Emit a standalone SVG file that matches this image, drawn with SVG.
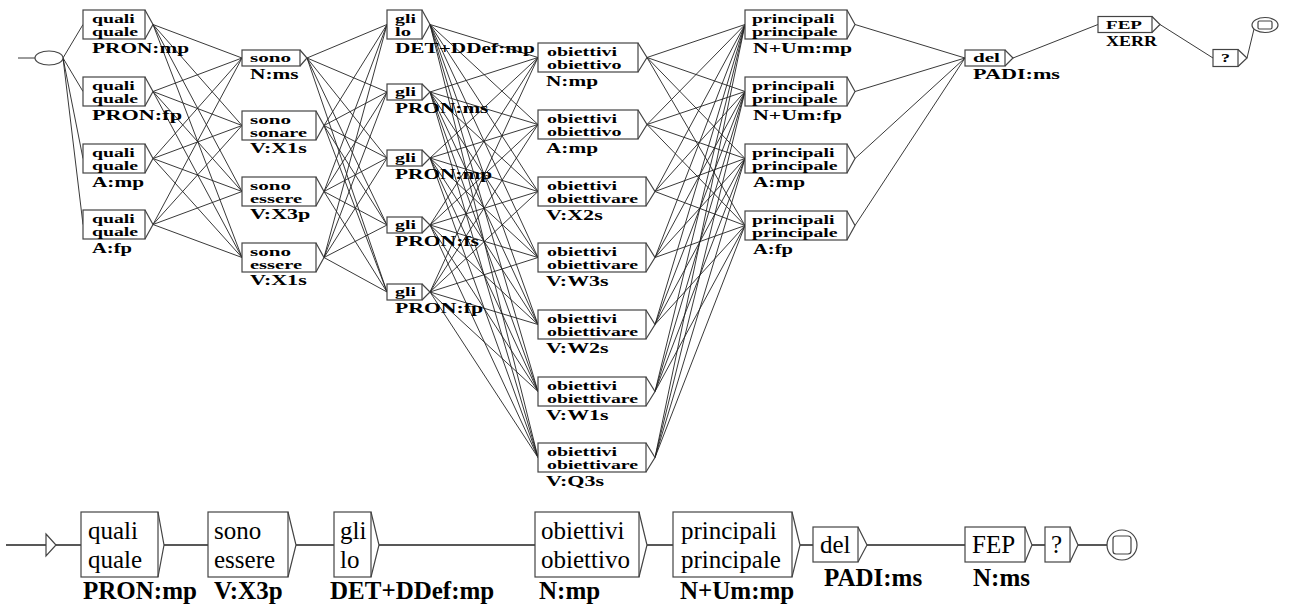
<svg xmlns="http://www.w3.org/2000/svg" width="1289" height="605" viewBox="0 0 1289 605">
<style>
.b{fill:#fff;stroke:#444;stroke-width:1.2}
.a{fill:none;stroke:#444;stroke-width:1.2}
.c{fill:none;stroke:#222;stroke-width:0.9}
.c2{fill:none;stroke:#222;stroke-width:1.4}
.t{font-family:"Liberation Serif","Times New Roman",serif;font-weight:bold;font-size:13px;fill:#000}
.l{font-family:"Liberation Serif","Times New Roman",serif;font-weight:bold;font-size:14px;fill:#000}
.bt{font-family:"Liberation Serif","Times New Roman",serif;font-size:25px;fill:#000}
.bl{font-family:"Liberation Serif","Times New Roman",serif;font-weight:bold;font-size:25px;fill:#000}
</style>
<rect width="1289" height="605" fill="#fff"/>
<g id="connectors">
<path class="c" d="M18 58H35"/>
<path class="c" d="M63 58L83 24.5M63 58L83 91.5M63 58L83 158.5M63 58L83 224.5"/>
<path class="c" d="M153 24.5L242 58M153 24.5L242 125.5M153 24.5L242 191.5M153 24.5L242 257.5
M153 91.5L242 58M153 91.5L242 125.5M153 91.5L242 191.5M153 91.5L242 257.5
M153 158.5L242 58M153 158.5L242 125.5M153 158.5L242 191.5M153 158.5L242 257.5
M153 224.5L242 58M153 224.5L242 125.5M153 224.5L242 191.5M153 224.5L242 257.5"/>
<path class="c" d="M307 58L387 24.5M307 58L387 92M307 58L387 158M307 58L387 225M307 58L387 292
M324 125.5L387 24.5M324 125.5L387 92M324 125.5L387 158M324 125.5L387 225M324 125.5L387 292
M324 191.5L387 24.5M324 191.5L387 92M324 191.5L387 158M324 191.5L387 225M324 191.5L387 292
M324 257.5L387 24.5M324 257.5L387 92M324 257.5L387 158M324 257.5L387 225M324 257.5L387 292"/>
<path class="c" d="M430 24.5L538 57.5M430 24.5L538 124.5M430 24.5L538 191.5M430 24.5L538 257.5M430 24.5L538 324.5M430 24.5L538 391.5M430 24.5L538 457.5
M430 92L538 57.5M430 92L538 124.5M430 92L538 191.5M430 92L538 257.5M430 92L538 324.5M430 92L538 391.5M430 92L538 457.5
M430 158L538 57.5M430 158L538 124.5M430 158L538 191.5M430 158L538 257.5M430 158L538 324.5M430 158L538 391.5M430 158L538 457.5
M430 225L538 57.5M430 225L538 124.5M430 225L538 191.5M430 225L538 257.5M430 225L538 324.5M430 225L538 391.5M430 225L538 457.5
M430 292L538 57.5M430 292L538 124.5M430 292L538 191.5M430 292L538 257.5M430 292L538 324.5M430 292L538 391.5M430 292L538 457.5"/>
<path class="c" d="M647 57.5L745 24.5M647 57.5L745 91.5M647 57.5L745 158.5M647 57.5L745 225.5
M647 124.5L745 24.5M647 124.5L745 91.5M647 124.5L745 158.5M647 124.5L745 225.5
M655 191.5L745 24.5M655 191.5L745 91.5M655 191.5L745 158.5M655 191.5L745 225.5
M655 257.5L745 24.5M655 257.5L745 91.5M655 257.5L745 158.5M655 257.5L745 225.5
M655 324.5L745 24.5M655 324.5L745 91.5M655 324.5L745 158.5M655 324.5L745 225.5
M655 391.5L745 24.5M655 391.5L745 91.5M655 391.5L745 158.5M655 391.5L745 225.5
M655 457.5L745 24.5M655 457.5L745 91.5M655 457.5L745 158.5M655 457.5L745 225.5"/>
<path class="c" d="M855 24.5L965 58M855 91.5L965 58M855 158.5L965 58M855 225.5L965 58"/>
<path class="c" d="M1013 58L1098 24.5M1160 24.5L1213 58M1247 58L1254 29"/>
<path class="c2" d="M6 545H46M56 545H81M164 545H208M296 545H334M379 545H535M647 545H673M800 545H813M867 545H965M1032 545H1045M1078 545H1107"/>
</g>
<g id="init-top"><ellipse class="b" cx="49" cy="58" rx="14" ry="7"/></g>
<g id="n1a"><rect class="b" x="83" y="10" width="62" height="29"/><path class="a" d="M145 10L153 24.5L145 39"/><text class="t" x="92" y="23" textLength="42.8" lengthAdjust="spacingAndGlyphs">quali</text><text class="t" x="92" y="36" textLength="46.1" lengthAdjust="spacingAndGlyphs">quale</text><text class="l" x="92" y="53" textLength="97" lengthAdjust="spacingAndGlyphs">PRON:mp</text></g>
<g id="n1b"><rect class="b" x="83" y="77" width="62" height="29"/><path class="a" d="M145 77L153 91.5L145 106"/><text class="t" x="92" y="90" textLength="42.8" lengthAdjust="spacingAndGlyphs">quali</text><text class="t" x="92" y="103" textLength="46.1" lengthAdjust="spacingAndGlyphs">quale</text><text class="l" x="92" y="120" textLength="90" lengthAdjust="spacingAndGlyphs">PRON:fp</text></g>
<g id="n1c"><rect class="b" x="83" y="144" width="62" height="29"/><path class="a" d="M145 144L153 158.5L145 173"/><text class="t" x="92" y="157" textLength="42.8" lengthAdjust="spacingAndGlyphs">quali</text><text class="t" x="92" y="170" textLength="46.1" lengthAdjust="spacingAndGlyphs">quale</text><text class="l" x="92" y="187" textLength="52" lengthAdjust="spacingAndGlyphs">A:mp</text></g>
<g id="n1d"><rect class="b" x="83" y="210" width="62" height="29"/><path class="a" d="M145 210L153 224.5L145 239"/><text class="t" x="92" y="223" textLength="42.8" lengthAdjust="spacingAndGlyphs">quali</text><text class="t" x="92" y="236" textLength="46.1" lengthAdjust="spacingAndGlyphs">quale</text><text class="l" x="92" y="253" textLength="40" lengthAdjust="spacingAndGlyphs">A:fp</text></g>
<g id="n2a"><rect class="b" x="242" y="50" width="58" height="16"/><path class="a" d="M300 50L307 58L300 66"/><text class="t" x="250" y="62" textLength="41" lengthAdjust="spacingAndGlyphs">sono</text><text class="l" x="250" y="79" textLength="48.5" lengthAdjust="spacingAndGlyphs">N:ms</text></g>
<g id="n2b"><rect class="b" x="242" y="111" width="74" height="29"/><path class="a" d="M316 111L324 125.5L316 140"/><text class="t" x="250" y="124" textLength="41" lengthAdjust="spacingAndGlyphs">sono</text><text class="t" x="250" y="137" textLength="57" lengthAdjust="spacingAndGlyphs">sonare</text><text class="l" x="250" y="153" textLength="56.7" lengthAdjust="spacingAndGlyphs">V:X1s</text></g>
<g id="n2c"><rect class="b" x="242" y="177" width="74" height="29"/><path class="a" d="M316 177L324 191.5L316 206"/><text class="t" x="250" y="190" textLength="41" lengthAdjust="spacingAndGlyphs">sono</text><text class="t" x="250" y="203" textLength="52" lengthAdjust="spacingAndGlyphs">essere</text><text class="l" x="250" y="219" textLength="60.3" lengthAdjust="spacingAndGlyphs">V:X3p</text></g>
<g id="n2d"><rect class="b" x="242" y="243" width="74" height="29"/><path class="a" d="M316 243L324 257.5L316 272"/><text class="t" x="250" y="256" textLength="41" lengthAdjust="spacingAndGlyphs">sono</text><text class="t" x="250" y="269" textLength="52" lengthAdjust="spacingAndGlyphs">essere</text><text class="l" x="250" y="285" textLength="56.7" lengthAdjust="spacingAndGlyphs">V:X1s</text></g>
<g id="n3a"><rect class="b" x="387" y="10" width="35" height="29"/><path class="a" d="M422 10L430 24.5L422 39"/><text class="t" x="395" y="23" textLength="20.9" lengthAdjust="spacingAndGlyphs">gli</text><text class="t" x="395" y="36" textLength="16" lengthAdjust="spacingAndGlyphs">lo</text><text class="l" x="395" y="53" textLength="139.8" lengthAdjust="spacingAndGlyphs">DET+DDef:mp</text></g>
<g id="n3b"><rect class="b" x="387" y="84" width="35" height="16"/><path class="a" d="M422 84L430 92L422 100"/><text class="t" x="395" y="96" textLength="20.9" lengthAdjust="spacingAndGlyphs">gli</text><text class="l" x="395" y="113" textLength="93.4" lengthAdjust="spacingAndGlyphs">PRON:ms</text></g>
<g id="n3c"><rect class="b" x="387" y="150" width="35" height="16"/><path class="a" d="M422 150L430 158L422 166"/><text class="t" x="395" y="162" textLength="20.9" lengthAdjust="spacingAndGlyphs">gli</text><text class="l" x="395" y="179" textLength="97" lengthAdjust="spacingAndGlyphs">PRON:mp</text></g>
<g id="n3d"><rect class="b" x="387" y="217" width="35" height="16"/><path class="a" d="M422 217L430 225L422 233"/><text class="t" x="395" y="229" textLength="20.9" lengthAdjust="spacingAndGlyphs">gli</text><text class="l" x="395" y="246" textLength="84" lengthAdjust="spacingAndGlyphs">PRON:fs</text></g>
<g id="n3e"><rect class="b" x="387" y="284" width="35" height="16"/><path class="a" d="M422 284L430 292L422 300"/><text class="t" x="395" y="296" textLength="20.9" lengthAdjust="spacingAndGlyphs">gli</text><text class="l" x="395" y="313" textLength="88" lengthAdjust="spacingAndGlyphs">PRON:fp</text></g>
<g id="n4a"><rect class="b" x="538" y="43" width="100" height="29"/><path class="a" d="M638 43L647 57.5L638 72"/><text class="t" x="547" y="56" textLength="70" lengthAdjust="spacingAndGlyphs">obiettivi</text><text class="t" x="547" y="69" textLength="74.5" lengthAdjust="spacingAndGlyphs">obiettivo</text><text class="l" x="546" y="86" textLength="52" lengthAdjust="spacingAndGlyphs">N:mp</text></g>
<g id="n4b"><rect class="b" x="538" y="110" width="100" height="29"/><path class="a" d="M638 110L647 124.5L638 139"/><text class="t" x="547" y="123" textLength="70" lengthAdjust="spacingAndGlyphs">obiettivi</text><text class="t" x="547" y="136" textLength="74.5" lengthAdjust="spacingAndGlyphs">obiettivo</text><text class="l" x="546" y="153" textLength="52" lengthAdjust="spacingAndGlyphs">A:mp</text></g>
<g id="n4c"><rect class="b" x="538" y="177" width="108" height="29"/><path class="a" d="M646 177L655 191.5L646 206"/><text class="t" x="547" y="190" textLength="70" lengthAdjust="spacingAndGlyphs">obiettivi</text><text class="t" x="547" y="203" textLength="91.1" lengthAdjust="spacingAndGlyphs">obiettivare</text><text class="l" x="546" y="220" textLength="56.7" lengthAdjust="spacingAndGlyphs">V:X2s</text></g>
<g id="n4d"><rect class="b" x="538" y="243" width="108" height="29"/><path class="a" d="M646 243L655 257.5L646 272"/><text class="t" x="547" y="256" textLength="70" lengthAdjust="spacingAndGlyphs">obiettivi</text><text class="t" x="547" y="269" textLength="91.1" lengthAdjust="spacingAndGlyphs">obiettivare</text><text class="l" x="546" y="286" textLength="62.6" lengthAdjust="spacingAndGlyphs">V:W3s</text></g>
<g id="n4e"><rect class="b" x="538" y="310" width="108" height="29"/><path class="a" d="M646 310L655 324.5L646 339"/><text class="t" x="547" y="323" textLength="70" lengthAdjust="spacingAndGlyphs">obiettivi</text><text class="t" x="547" y="336" textLength="91.1" lengthAdjust="spacingAndGlyphs">obiettivare</text><text class="l" x="546" y="353" textLength="62.6" lengthAdjust="spacingAndGlyphs">V:W2s</text></g>
<g id="n4f"><rect class="b" x="538" y="377" width="108" height="29"/><path class="a" d="M646 377L655 391.5L646 406"/><text class="t" x="547" y="390" textLength="70" lengthAdjust="spacingAndGlyphs">obiettivi</text><text class="t" x="547" y="403" textLength="91.1" lengthAdjust="spacingAndGlyphs">obiettivare</text><text class="l" x="546" y="420" textLength="62.6" lengthAdjust="spacingAndGlyphs">V:W1s</text></g>
<g id="n4g"><rect class="b" x="538" y="443" width="108" height="29"/><path class="a" d="M646 443L655 457.5L646 472"/><text class="t" x="547" y="456" textLength="70" lengthAdjust="spacingAndGlyphs">obiettivi</text><text class="t" x="547" y="469" textLength="91.1" lengthAdjust="spacingAndGlyphs">obiettivare</text><text class="l" x="546" y="486" textLength="58" lengthAdjust="spacingAndGlyphs">V:Q3s</text></g>
<g id="n5a"><rect class="b" x="745" y="10" width="102" height="29"/><path class="a" d="M847 10L855 24.5L847 39"/><text class="t" x="752" y="23" textLength="82.4" lengthAdjust="spacingAndGlyphs">principali</text><text class="t" x="752" y="36" textLength="85.6" lengthAdjust="spacingAndGlyphs">principale</text><text class="l" x="753" y="53" textLength="99" lengthAdjust="spacingAndGlyphs">N+Um:mp</text></g>
<g id="n5b"><rect class="b" x="745" y="77" width="102" height="29"/><path class="a" d="M847 77L855 91.5L847 106"/><text class="t" x="752" y="90" textLength="82.4" lengthAdjust="spacingAndGlyphs">principali</text><text class="t" x="752" y="103" textLength="85.6" lengthAdjust="spacingAndGlyphs">principale</text><text class="l" x="753" y="120" textLength="89" lengthAdjust="spacingAndGlyphs">N+Um:fp</text></g>
<g id="n5c"><rect class="b" x="745" y="144" width="102" height="29"/><path class="a" d="M847 144L855 158.5L847 173"/><text class="t" x="752" y="157" textLength="82.4" lengthAdjust="spacingAndGlyphs">principali</text><text class="t" x="752" y="170" textLength="85.6" lengthAdjust="spacingAndGlyphs">principale</text><text class="l" x="753" y="187" textLength="52" lengthAdjust="spacingAndGlyphs">A:mp</text></g>
<g id="n5d"><rect class="b" x="745" y="211" width="102" height="29"/><path class="a" d="M847 211L855 225.5L847 240"/><text class="t" x="752" y="224" textLength="82.4" lengthAdjust="spacingAndGlyphs">principali</text><text class="t" x="752" y="237" textLength="85.6" lengthAdjust="spacingAndGlyphs">principale</text><text class="l" x="753" y="254" textLength="40" lengthAdjust="spacingAndGlyphs">A:fp</text></g>
<g id="n6-del"><rect class="b" x="965" y="50" width="40" height="16"/><path class="a" d="M1005 50L1013 58L1005 66"/><text class="t" x="973" y="62" textLength="27" lengthAdjust="spacingAndGlyphs">del</text><text class="l" x="973" y="79" textLength="87" lengthAdjust="spacingAndGlyphs">PADI:ms</text></g>
<g id="n7-fep"><rect class="b" x="1098" y="16.5" width="54" height="16"/><path class="a" d="M1152 16.5L1160 24.5L1152 32.5"/><text class="t" x="1106" y="28.5" textLength="36" lengthAdjust="spacingAndGlyphs">FEP</text><text class="l" x="1106" y="46" textLength="51" lengthAdjust="spacingAndGlyphs">XERR</text></g>
<g id="n8-q"><rect class="b" x="1213" y="49.5" width="25" height="17"/><path class="a" d="M1238 49.5L1247 58L1238 66.5"/><text class="t" x="1221" y="62" textLength="9" lengthAdjust="spacingAndGlyphs">?</text></g>
<g id="final-top"><ellipse class="b" cx="1265" cy="25" rx="13" ry="7.5"/><rect class="a" x="1258" y="21" width="14" height="8" rx="1.5"/></g>
<g id="b-init"><path class="b" d="M46 534L56 545L46 556Z"/></g>
<g id="b-quali"><rect class="b" x="81" y="512" width="77" height="65"/><path class="a" d="M158 512L164 545L158 577"/><text class="bt" x="88" y="539">quali</text><text class="bt" x="88" y="568">quale</text><text class="bl" x="83" y="599">PRON:mp</text></g>
<g id="b-sono"><rect class="b" x="208" y="512" width="80" height="65"/><path class="a" d="M288 512L296 545L288 577"/><text class="bt" x="214" y="539">sono</text><text class="bt" x="214" y="568">essere</text><text class="bl" x="214" y="599">V:X3p</text></g>
<g id="b-gli"><rect class="b" x="334" y="512" width="37" height="65"/><path class="a" d="M371 512L379 545L371 577"/><text class="bt" x="340" y="539">gli</text><text class="bt" x="340" y="568">lo</text><text class="bl" x="330" y="599">DET+DDef:mp</text></g>
<g id="b-obiettivi"><rect class="b" x="535" y="512" width="104" height="65"/><path class="a" d="M639 512L647 545L639 577"/><text class="bt" x="541" y="539">obiettivi</text><text class="bt" x="541" y="568">obiettivo</text><text class="bl" x="539" y="599">N:mp</text></g>
<g id="b-principali"><rect class="b" x="673" y="512" width="119" height="65"/><path class="a" d="M792 512L800 545L792 577"/><text class="bt" x="681" y="539">principali</text><text class="bt" x="681" y="568">principale</text><text class="bl" x="680" y="599">N+Um:mp</text></g>
<g id="b-del"><rect class="b" x="813" y="527" width="45" height="35"/><path class="a" d="M858 527L867 545L858 562"/><text class="bt" x="820" y="553">del</text><text class="bl" x="824" y="586">PADI:ms</text></g>
<g id="b-fep"><rect class="b" x="965" y="527" width="60" height="35"/><path class="a" d="M1025 527L1032 545L1025 562"/><text class="bt" x="972" y="553">FEP</text><text class="bl" x="973" y="586">N:ms</text></g>
<g id="b-q"><rect class="b" x="1045" y="527" width="25" height="35"/><path class="a" d="M1070 527L1078 545L1070 562"/><text class="bt" x="1051" y="553">?</text></g>
<g id="b-final"><circle class="b" cx="1122" cy="545" r="15"/><rect class="a" x="1113" y="536" width="18" height="18" rx="3"/></g>
</svg>
